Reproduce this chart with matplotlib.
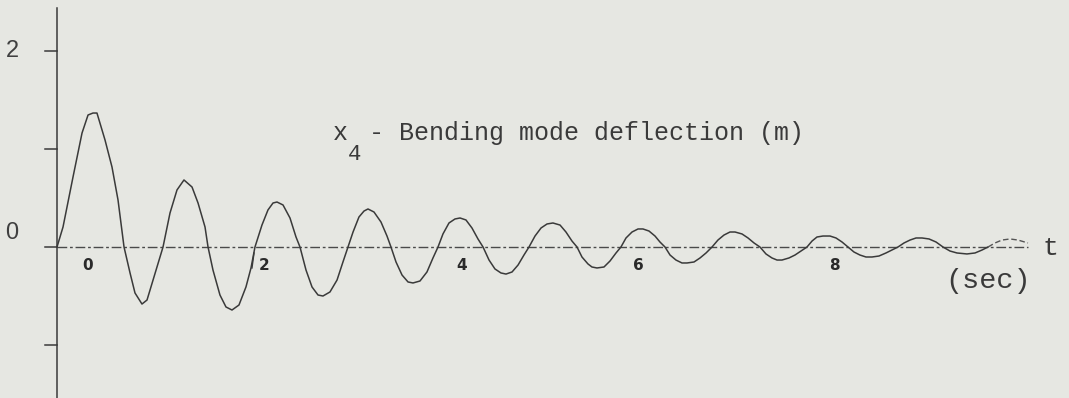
import numpy as np
import matplotlib.pyplot as plt

# bending mode deflection x4 (m) vs time (sec)
t = [0.000, 0.062, 0.165, 0.258, 0.320, 0.371, 0.412, 0.495, 0.567, 0.629,
     0.691, 0.753, 0.804, 0.876, 0.928, 0.990, 1.062, 1.093, 1.165, 1.237,
     1.309, 1.392, 1.454, 1.526, 1.557, 1.608, 1.680, 1.742, 1.804, 1.876,
     1.948, 2.000, 2.041, 2.113, 2.175, 2.227, 2.268, 2.330, 2.402, 2.464,
     2.505, 2.567, 2.629, 2.691, 2.742, 2.814, 2.887, 2.948, 3.000, 3.052,
     3.113, 3.165, 3.206, 3.268, 3.340, 3.402, 3.443, 3.495, 3.557, 3.619,
     3.670, 3.742, 3.814, 3.876, 3.928, 3.979, 4.041, 4.103, 4.155, 4.216,
     4.278, 4.340, 4.392, 4.454, 4.515, 4.577, 4.629, 4.691, 4.753, 4.814,
     4.866, 4.928, 4.990, 5.052, 5.113, 5.186, 5.247, 5.309, 5.361, 5.412,
     5.474, 5.515, 5.567, 5.639, 5.701, 5.763, 5.814, 5.866, 5.928, 5.990,
     6.041, 6.103, 6.165, 6.216, 6.268, 6.320, 6.381, 6.443, 6.495, 6.567,
     6.629, 6.691, 6.753, 6.814, 6.876, 6.938, 6.990, 7.062, 7.124, 7.186,
     7.247, 7.309, 7.371, 7.423, 7.474, 7.546, 7.608, 7.670, 7.732, 7.784,
     7.835, 7.897, 7.969, 8.031, 8.093, 8.155, 8.216, 8.278, 8.340, 8.402,
     8.474, 8.546, 8.608, 8.670, 8.732, 8.794, 8.856, 8.918, 8.990, 9.062,
     9.134, 9.206, 9.278, 9.381, 9.464, 9.536, 9.598]
x4 = [0.000, 0.204, 0.714, 1.163, 1.347, 1.367, 1.367, 1.092, 0.816, 0.480,
      0.000, -0.265, -0.469, -0.582, -0.541, -0.337, -0.102, 0.000, 0.347, 0.582,
      0.684, 0.612, 0.449, 0.204, 0.000, -0.235, -0.490, -0.612, -0.643, -0.592,
      -0.408, -0.214, 0.000, 0.224, 0.378, 0.449, 0.459, 0.429, 0.296, 0.102,
      0.000, -0.235, -0.408, -0.490, -0.500, -0.459, -0.337, -0.153, 0.000, 0.153,
      0.306, 0.367, 0.388, 0.357, 0.255, 0.112, 0.000, -0.153, -0.286, -0.357,
      -0.367, -0.347, -0.255, -0.112, 0.000, 0.133, 0.245, 0.286, 0.296, 0.276,
      0.194, 0.082, 0.000, -0.133, -0.224, -0.265, -0.276, -0.255, -0.184, -0.082,
      0.000, 0.112, 0.194, 0.235, 0.245, 0.224, 0.153, 0.061, 0.000, -0.102,
      -0.173, -0.204, -0.214, -0.204, -0.143, -0.061, 0.000, 0.092, 0.153, 0.184,
      0.184, 0.163, 0.112, 0.051, 0.000, -0.082, -0.133, -0.163, -0.163, -0.153,
      -0.112, -0.061, 0.000, 0.071, 0.122, 0.153, 0.153, 0.133, 0.092, 0.041,
      0.000, -0.071, -0.112, -0.133, -0.133, -0.112, -0.082, -0.041, 0.000, 0.061,
      0.102, 0.112, 0.112, 0.092, 0.051, 0.000, -0.051, -0.082, -0.102, -0.102,
      -0.092, -0.061, -0.031, 0.000, 0.041, 0.071, 0.092, 0.092, 0.082, 0.051,
      0.000, -0.041, -0.061, -0.071, -0.061, -0.031, 0.000]
# last faint (dashed) lobe at the end of the run
t_tail = [9.598, 9.670, 9.742, 9.825, 9.907, 10.010]
x4_tail = [0.000, 0.041, 0.071, 0.082, 0.071, 0.041]

yticks = [2, 1, 0, -1]
ylabels = {'2': 2.0, '0': 0.14}
xlabels = ['0', '2', '4', '6', '8']
xlabel_pos = [0.32, 2.14, 4.17, 5.99, 8.01]
t_end = 10.01

bg = '#e6e7e2'
ink = '#3a3a3a'

fig = plt.figure(figsize=(10.69, 3.98), dpi=100, facecolor=bg)
ax = fig.add_axes([0, 0, 1, 1])
ax.set_facecolor(bg)
ax.set_xlim(-57 / 97, 1012 / 97)
ax.set_ylim(-151 / 98, 247 / 98)
ax.axis('off')

# axes drawn by hand, plotter style
ax.plot([0, 0], [-1.6, 2.44], color=ink, lw=1.1)
for v in yticks:
    ax.plot([-0.124, 0], [v, v], color=ink, lw=1.1)
ax.plot([0, t_end], [0, 0], color='#4a4a4a', lw=1.0, ls=(0, (7, 2, 2, 2)))

ax.plot(t, x4, color=ink, lw=1.1)
ax.plot(t_tail, x4_tail, color='#555555', lw=1.0, ls=(0, (4, 2)))

for lab, v in ylabels.items():
    ax.text(-0.464, v, lab, fontsize=17, family='Liberation Sans',
            color='#404040', ha='center', va='center')
for lab, xp in zip(xlabels, xlabel_pos):
    ax.text(xp, -0.19, lab, fontsize=11, family='DejaVu Sans', weight='bold',
            color='#2a2a2a', ha='center', va='center')
# little hand mark by the "2"
ax.plot([2.010, 2.031], [-0.214, -0.061], color=ink, lw=1.0)

mono = 'Liberation Mono'
ax.text(2.845, 1.09, 'x', fontsize=18, family=mono, color=ink, va='baseline')
ax.text(3.0, 0.89, '4', fontsize=16, family=mono, color=ink, va='baseline')
ax.text(3.06, 1.09, ' - Bending mode deflection (m)', fontsize=18,
        family=mono, color=ink, va='baseline')
ax.text(10.237, -0.08, 't', fontsize=19, family=mono, color=ink,
        va='baseline', ha='center')
ax.text(9.155, -0.35, '(sec)', fontsize=20.5, family=mono, color=ink,
        va='center', ha='left')

fig.savefig('out.png', dpi=100, facecolor=bg)
